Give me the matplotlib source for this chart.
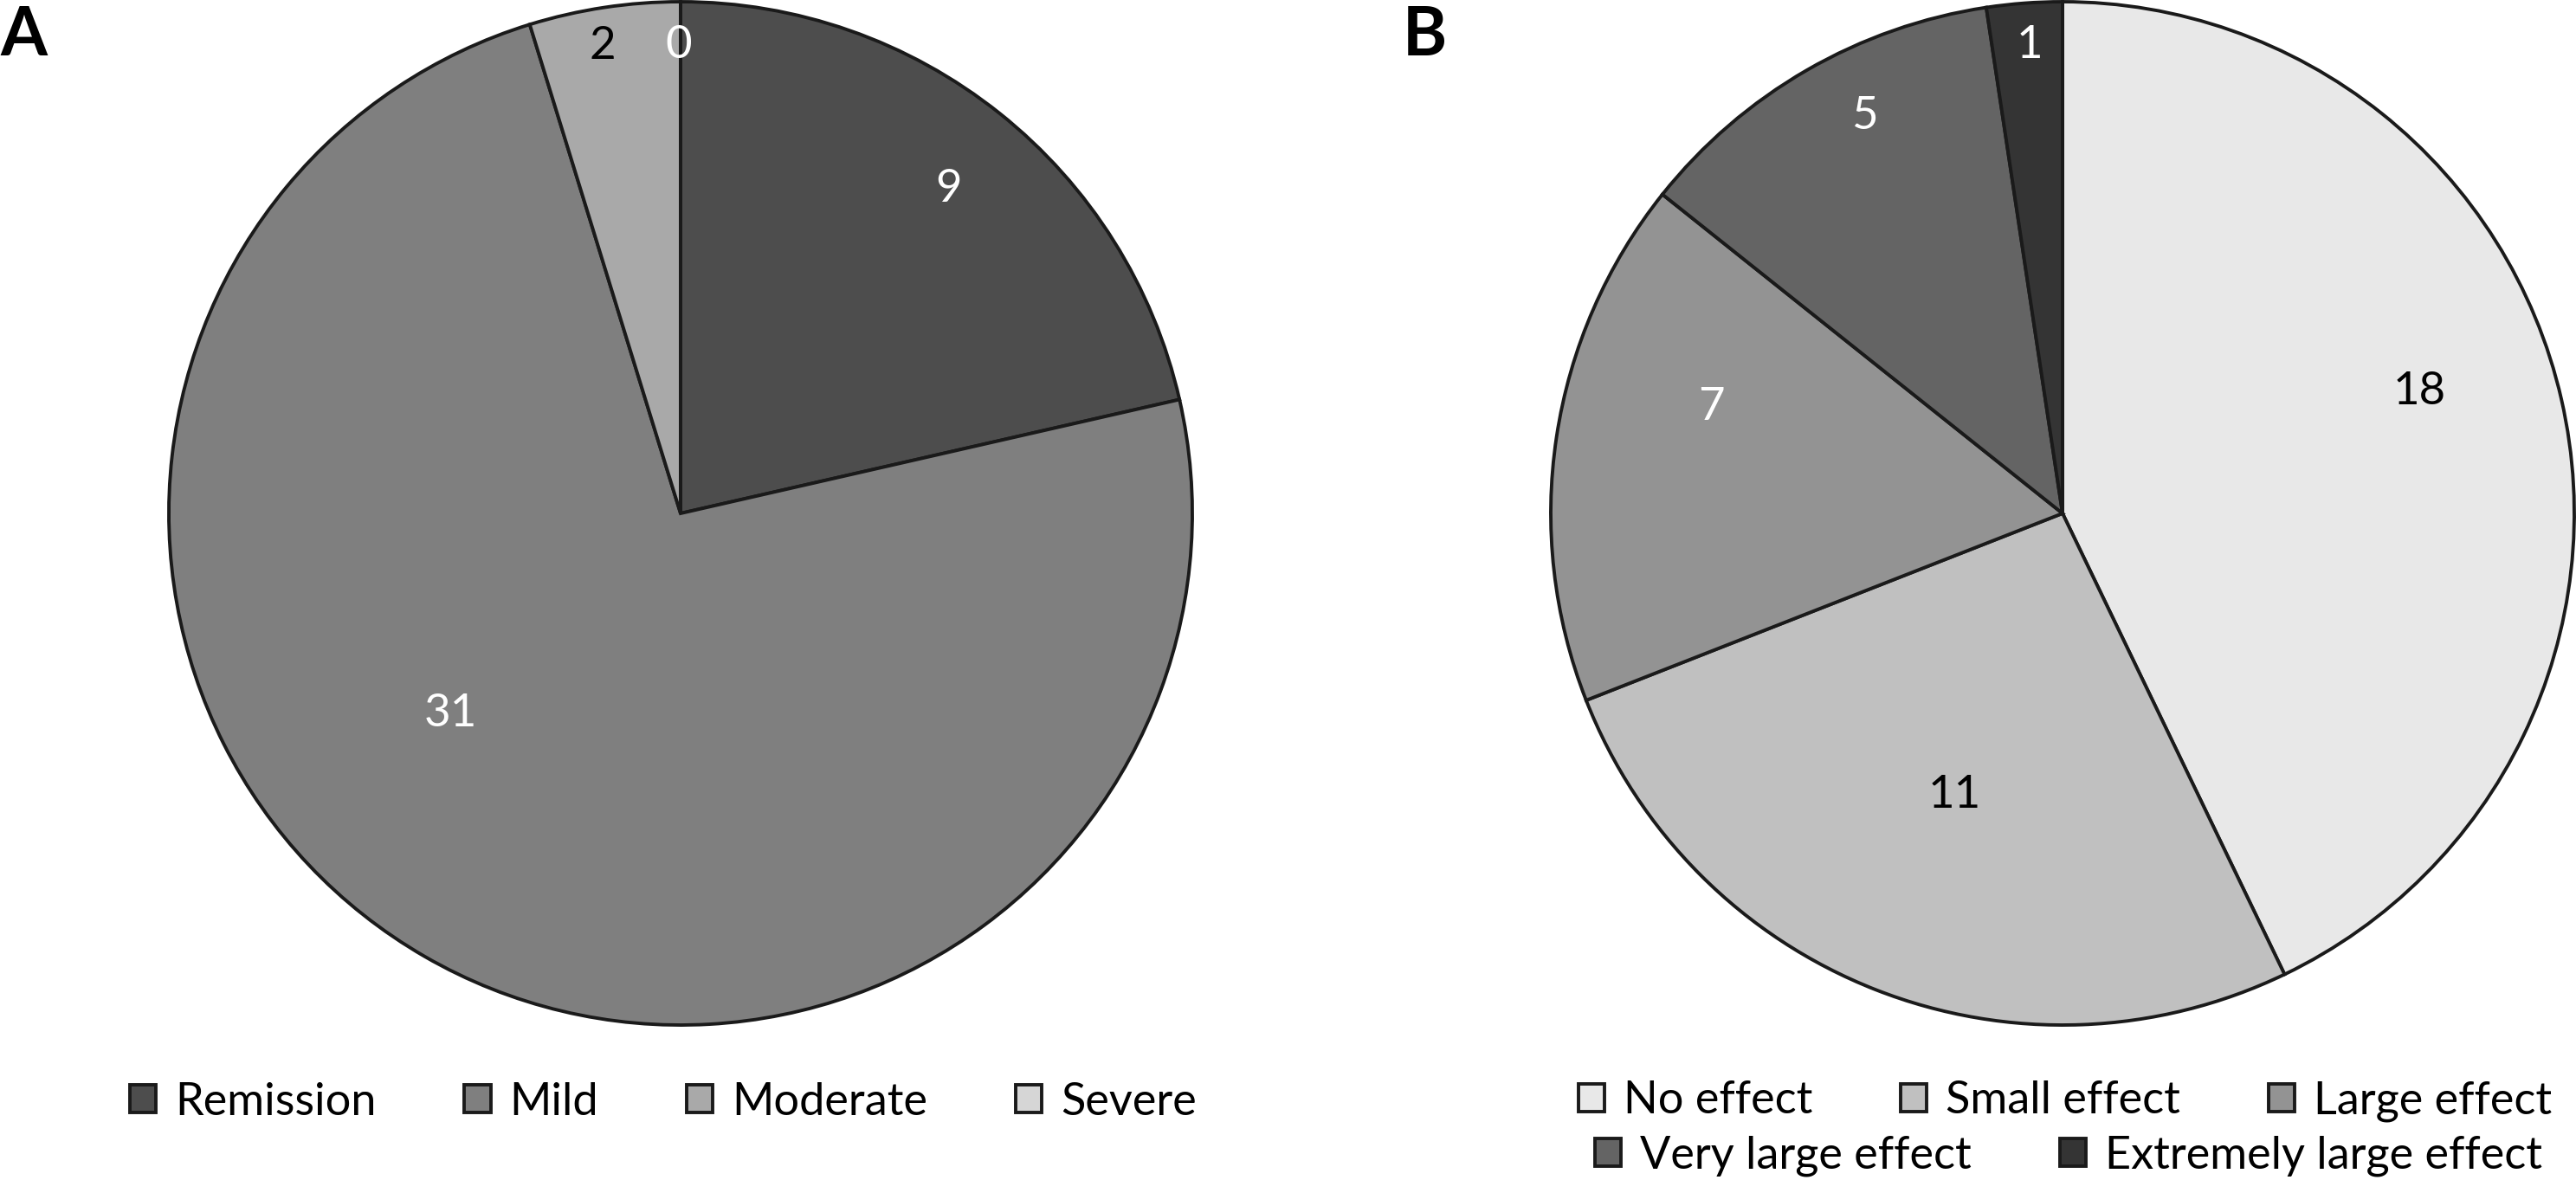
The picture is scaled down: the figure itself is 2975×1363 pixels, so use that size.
import matplotlib
matplotlib.use("Agg")
import matplotlib.pyplot as plt
import numpy as np

plt.rcParams['font.family'] = ['Lato', 'DejaVu Sans']

# ---- data ----
severity_labels = ["Remission", "Mild", "Moderate", "Severe"]
severity_values = [9, 31, 2, 0]
severity_colors = ["#4d4d4d", "#7f7f7f", "#a9a9a9", "#d6d6d6"]
severity_text_colors = ["white", "white", "black", "white"]

effect_labels = ["No effect", "Small effect", "Large effect",
                 "Very large effect", "Extremely large effect"]
effect_values = [18, 11, 7, 5, 1]
effect_colors = ["#e8e8e8", "#c0c0c0", "#939393", "#646464", "#343434"]
effect_text_colors = ["black", "black", "white", "white", "white"]

# label placement (angle in degrees, fraction of radius)
severity_label_pos = [(50.9, 0.83), (220.4, 0.59), (99.4, 0.935), (90.2, 0.924)]
effect_label_pos = [(19.5, 0.74), (248.7, 0.58), (162.4, 0.72), (116.2, 0.875), (94.0, 0.926)]

W, H = 2975, 1363
DPI = 200
fig = plt.figure(figsize=(W / DPI, H / DPI), dpi=DPI)

R = 591
CY = 593
EDGE = "#1a1a1a"
LW = 1.4


def make_pie(cx, values, colors, text_colors, label_pos):
    ax = fig.add_axes([(cx - R) / W, (H - (CY + R)) / H, 2 * R / W, 2 * R / H])
    wedges, _ = ax.pie(values, colors=colors, startangle=90, counterclock=False,
                       radius=1.0,
                       wedgeprops=dict(edgecolor=EDGE, linewidth=LW, clip_on=False))
    ax.set_xlim(-1, 1)
    ax.set_ylim(-1, 1)
    ax.set_aspect('equal')
    ax.axis('off')
    for v, tc, (ang, fr) in zip(values, text_colors, label_pos):
        a = np.deg2rad(ang)
        ax.text(fr * np.cos(a), fr * np.sin(a) - 0.01, str(v), color=tc,
                fontsize=19, ha='center', va='center')
    return wedges


wA = make_pie(786, severity_values, severity_colors, severity_text_colors, severity_label_pos)
wB = make_pie(2382, effect_values, effect_colors, effect_text_colors, effect_label_pos)

leg_kw = dict(frameon=False, fontsize=18.8, handlelength=0.58, handleheight=0.58,
              handletextpad=0.42, columnspacing=1.95, borderpad=0.0, loc='center',
              borderaxespad=0.0)

fig.legend(wA, severity_labels, ncol=4,
           bbox_to_anchor=(766 / W, 1 - 1273 / H), **leg_kw)
fig.legend(wB[:3], effect_labels[:3], ncol=3,
           bbox_to_anchor=(2385 / W, 1 - 1272 / H), **leg_kw)
fig.legend(wB[3:], effect_labels[3:], ncol=2,
           bbox_to_anchor=(2389 / W, 1 - 1335 / H), **leg_kw)

fig.text(0 / W, 1 - 6 / H, "A", fontsize=28, fontweight='bold', ha='left', va='top')
fig.text(1620 / W, 1 - 6 / H, "B", fontsize=28, fontweight='bold', ha='left', va='top')

fig.savefig("out.png", dpi=DPI, facecolor='white')
